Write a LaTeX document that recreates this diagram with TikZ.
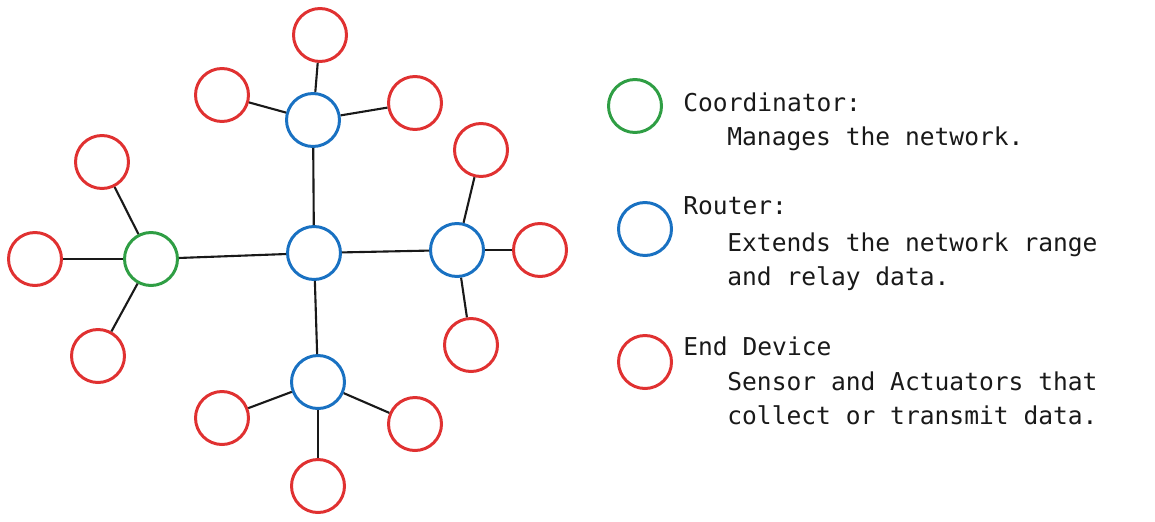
\documentclass[tikz,border=0pt]{standalone}
\usepackage{fontspec}
\setmainfont{DejaVu Sans Mono}
\usetikzlibrary{positioning}

\definecolor{zgreen}{HTML}{2F9E44}
\definecolor{zblue}{HTML}{1971C2}
\definecolor{zred}{HTML}{E03131}

\tikzset{
  dev/.style={circle, draw, line width=1.7pt, minimum size=1.06cm, inner sep=0pt},
  coordnode/.style={dev, draw=zgreen},
  routernode/.style={dev, draw=zblue},
  endnode/.style={dev, draw=zred},
  link/.style={draw=black!90, line width=1.2pt},
  legtext/.style={anchor=base west, inner sep=0pt, text=black!90,
                  font=\fontsize{14}{17}\selectfont}
}

\begin{document}
\begin{tikzpicture}[x=0.02cm, y=-0.02cm]

\useasboundingbox (0,0) rectangle (1155,521);

% ---- Coordinator and routers ----
\node[coordnode]  (coord) at (151,259) {};
\node[routernode] (rC)    at (314,253) {};
\node[routernode] (rT)    at (313,120) {};
\node[routernode] (rR)    at (457,250) {};
\node[routernode] (rB)    at (318,382) {};

% ---- End devices ----
\foreach \name/\x/\y in {eC1/102/162, eC2/35/259, eC3/98/356,
                         eT1/320/35, eT2/222/95, eT3/415/103,
                         eR1/481/150, eR2/540/250, eR3/471/345,
                         eB1/222/418, eB2/415/424, eB3/318/486}
  \node[endnode] (\name) at (\x,\y) {};

% ---- Links ----
\foreach \a/\b in {coord/eC1, coord/eC2, coord/eC3, coord/rC,
                   rC/rT, rC/rR, rC/rB,
                   rT/eT1, rT/eT2, rT/eT3,
                   rR/eR1, rR/eR2, rR/eR3,
                   rB/eB1, rB/eB2, rB/eB3}
  \draw[link] (\a) -- (\b);

% ---- Legend ----
\node[coordnode]  (legC) at (635,106) {};
\node[routernode] (legR) at (645,229) {};
\node[endnode]    (legE) at (645,362) {};

\node[legtext] (txtC)  at (683,111) {Coordinator:};
\node[legtext] (txtC1) at (727,145) {Manages the network.};

\node[legtext] (txtR)  at (683,214) {Router:};
\node[legtext] (txtR1) at (727,251) {Extends the network range};
\node[legtext] (txtR2) at (727,285) {and relay data.};

\node[legtext] (txtE)  at (683,355) {End Device};
\node[legtext] (txtE1) at (727,390) {Sensor and Actuators that};
\node[legtext] (txtE2) at (727,424) {collect or transmit data.};

\end{tikzpicture}
\end{document}
